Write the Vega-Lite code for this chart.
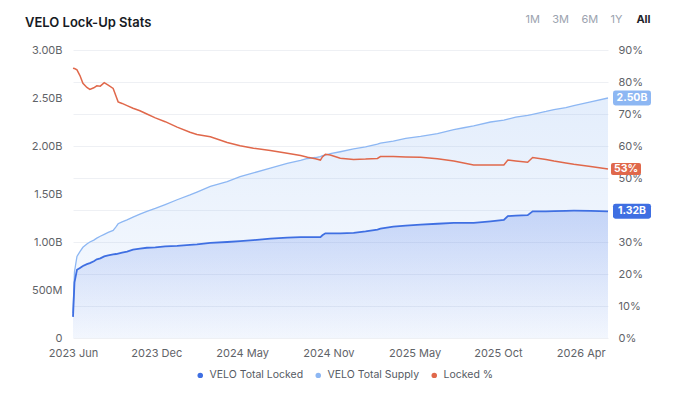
{
  "$schema": "https://vega.github.io/schema/vega-lite/v6.json",
  "width": 535,
  "height": 288,
  "autosize": "none",
  "padding": {"left": 73, "top": 50, "right": 72, "bottom": 70},
  "background": "white",
  "title": {
    "text": "VELO Lock-Up Stats",
    "anchor": "start",
    "frame": "group",
    "dx": -48,
    "dy": 37,
    "offset": 20,
    "fontSize": 13,
    "fontWeight": 600,
    "color": "#161a23"
  },
  "data": {
    "values": [
      {"date": "2023-06-20", "locked": 0.22, "supply": 0.26, "pct": 84.3},
      {"date": "2023-06-23", "locked": 0.58, "supply": 0.69, "pct": 84.2},
      {"date": "2023-06-28", "locked": 0.71, "supply": 0.85, "pct": 83.8},
      {"date": "2023-07-04", "locked": 0.73, "supply": 0.90, "pct": 82.0},
      {"date": "2023-07-10", "locked": 0.75, "supply": 0.945, "pct": 79.6},
      {"date": "2023-07-18", "locked": 0.77, "supply": 0.98, "pct": 78.3},
      {"date": "2023-07-24", "locked": 0.78, "supply": 1.00, "pct": 77.7},
      {"date": "2023-08-01", "locked": 0.80, "supply": 1.02, "pct": 78.2},
      {"date": "2023-08-07", "locked": 0.82, "supply": 1.04, "pct": 78.8},
      {"date": "2023-08-14", "locked": 0.83, "supply": 1.06, "pct": 78.7},
      {"date": "2023-08-22", "locked": 0.85, "supply": 1.08, "pct": 79.8},
      {"date": "2023-08-30", "locked": 0.86, "supply": 1.10, "pct": 79.0},
      {"date": "2023-09-09", "locked": 0.87, "supply": 1.12, "pct": 78.0},
      {"date": "2023-09-15", "locked": 0.875, "supply": 1.16, "pct": 75.5},
      {"date": "2023-09-19", "locked": 0.88, "supply": 1.19, "pct": 73.8},
      {"date": "2023-09-27", "locked": 0.89, "supply": 1.21, "pct": 73.3},
      {"date": "2023-10-07", "locked": 0.90, "supply": 1.23, "pct": 72.6},
      {"date": "2023-10-19", "locked": 0.92, "supply": 1.26, "pct": 71.8},
      {"date": "2023-11-02", "locked": 0.93, "supply": 1.29, "pct": 71.0},
      {"date": "2023-11-16", "locked": 0.94, "supply": 1.32, "pct": 70.0},
      {"date": "2023-12-03", "locked": 0.945, "supply": 1.35, "pct": 68.8},
      {"date": "2023-12-23", "locked": 0.955, "supply": 1.39, "pct": 67.6},
      {"date": "2024-01-16", "locked": 0.96, "supply": 1.44, "pct": 65.9},
      {"date": "2024-02-11", "locked": 0.97, "supply": 1.49, "pct": 64.3},
      {"date": "2024-02-25", "locked": 0.975, "supply": 1.52, "pct": 63.6},
      {"date": "2024-03-23", "locked": 0.99, "supply": 1.58, "pct": 62.9},
      {"date": "2024-04-26", "locked": 1.00, "supply": 1.63, "pct": 61.1},
      {"date": "2024-05-22", "locked": 1.01, "supply": 1.68, "pct": 60.1},
      {"date": "2024-06-18", "locked": 1.02, "supply": 1.72, "pct": 59.3},
      {"date": "2024-07-22", "locked": 1.035, "supply": 1.77, "pct": 58.6},
      {"date": "2024-08-25", "locked": 1.045, "supply": 1.82, "pct": 57.7},
      {"date": "2024-09-21", "locked": 1.05, "supply": 1.85, "pct": 57.0},
      {"date": "2024-10-05", "locked": 1.05, "supply": 1.87, "pct": 56.5},
      {"date": "2024-10-21", "locked": 1.05, "supply": 1.88, "pct": 56.0},
      {"date": "2024-10-31", "locked": 1.05, "supply": 1.89, "pct": 55.6},
      {"date": "2024-11-04", "locked": 1.07, "supply": 1.90, "pct": 56.6},
      {"date": "2024-11-10", "locked": 1.09, "supply": 1.905, "pct": 57.4},
      {"date": "2024-11-20", "locked": 1.09, "supply": 1.92, "pct": 57.2},
      {"date": "2024-12-10", "locked": 1.09, "supply": 1.94, "pct": 56.2},
      {"date": "2025-01-06", "locked": 1.095, "supply": 1.97, "pct": 55.8},
      {"date": "2025-01-30", "locked": 1.11, "supply": 1.99, "pct": 55.9},
      {"date": "2025-02-23", "locked": 1.13, "supply": 2.02, "pct": 56.1},
      {"date": "2025-03-01", "locked": 1.14, "supply": 2.03, "pct": 56.7},
      {"date": "2025-03-27", "locked": 1.16, "supply": 2.05, "pct": 56.7},
      {"date": "2025-04-21", "locked": 1.17, "supply": 2.08, "pct": 56.6},
      {"date": "2025-05-21", "locked": 1.18, "supply": 2.10, "pct": 56.5},
      {"date": "2025-06-24", "locked": 1.19, "supply": 2.13, "pct": 56.0},
      {"date": "2025-07-27", "locked": 1.20, "supply": 2.17, "pct": 55.3},
      {"date": "2025-08-16", "locked": 1.20, "supply": 2.19, "pct": 54.7},
      {"date": "2025-09-05", "locked": 1.20, "supply": 2.21, "pct": 54.1},
      {"date": "2025-10-09", "locked": 1.215, "supply": 2.25, "pct": 54.1},
      {"date": "2025-11-05", "locked": 1.23, "supply": 2.27, "pct": 54.1},
      {"date": "2025-11-13", "locked": 1.27, "supply": 2.28, "pct": 55.6},
      {"date": "2025-11-29", "locked": 1.275, "supply": 2.30, "pct": 55.3},
      {"date": "2025-12-23", "locked": 1.28, "supply": 2.32, "pct": 54.9},
      {"date": "2026-01-02", "locked": 1.32, "supply": 2.33, "pct": 56.4},
      {"date": "2026-01-29", "locked": 1.32, "supply": 2.36, "pct": 55.8},
      {"date": "2026-02-14", "locked": 1.322, "supply": 2.38, "pct": 55.3},
      {"date": "2026-03-10", "locked": 1.325, "supply": 2.40, "pct": 54.7},
      {"date": "2026-03-26", "locked": 1.326, "supply": 2.42, "pct": 54.3},
      {"date": "2026-04-29", "locked": 1.325, "supply": 2.46, "pct": 53.6},
      {"date": "2026-06-03", "locked": 1.32, "supply": 2.50, "pct": 52.8}
    ]
  },
  "encoding": {
    "x": {
      "field": "date",
      "type": "temporal",
      "title": null,
      "axis": {
        "values": [
          {"year": 2023, "month": 6, "date": 20},
          {"year": 2023, "month": 12, "date": 5},
          {"year": 2024, "month": 5, "date": 26},
          {"year": 2024, "month": 11, "date": 16},
          {"year": 2025, "month": 5, "date": 9},
          {"year": 2025, "month": 10, "date": 24},
          {"year": 2026, "month": 4, "date": 9}
        ],
        "labelExpr": "timeFormat(datum.value, '%Y %b')",
        "labelFlush": false,
        "labelOverlap": false,
        "grid": false,
        "domain": false,
        "ticks": false,
        "labelPadding": 9
      }
    }
  },
  "layer": [
    {
      "transform": [{"fold": ["locked", "supply"], "as": ["series", "value"]}],
      "layer": [
        {
          "transform": [{"filter": "datum.series == 'supply'"}],
          "mark": {
            "type": "area",
            "color": {
              "gradient": "linear", "x1": 0, "y1": 0, "x2": 0, "y2": 1,
              "stops": [
                {"offset": 0, "color": "rgba(140,182,242,0.24)"},
                {"offset": 1, "color": "rgba(140,182,242,0.06)"}
              ]
            }
          }
        },
        {
          "transform": [{"filter": "datum.series == 'locked'"}],
          "mark": {
            "type": "area",
            "color": {
              "gradient": "linear", "x1": 0, "y1": 0, "x2": 0, "y2": 1,
              "stops": [
                {"offset": 0, "color": "rgba(65,112,230,0.24)"},
                {"offset": 1, "color": "rgba(65,112,230,0.03)"}
              ]
            }
          }
        },
        {
          "transform": [{"filter": "datum.series == 'supply'"}],
          "mark": {"type": "line", "strokeWidth": 1.3},
          "encoding": {
            "color": {
              "datum": "VELO Total Supply",
              "scale": {"domain": ["VELO Total Locked", "VELO Total Supply", "Locked %"], "range": ["#3f6fe2", "#8db7f3", "#e0684b"]}
            }
          }
        },
        {
          "transform": [{"filter": "datum.series == 'locked'"}],
          "mark": {"type": "line", "strokeWidth": 1.8},
          "encoding": {"color": {"datum": "VELO Total Locked"}}
        },
        {
          "transform": [
            {"filter": "datum.supply >= 2.5"},
            {"calculate": "datum.series == 'locked' ? 'VELO Total Locked' : 'VELO Total Supply'", "as": "name"}
          ],
          "mark": {
            "type": "point",
            "shape": "M-0.87,-0.395 L0.87,-0.395 Q1,-0.395 1,-0.265 L1,0.265 Q1,0.395 0.87,0.395 L-0.87,0.395 Q-1,0.395 -1,0.265 L-1,-0.265 Q-1,-0.395 -0.87,-0.395 Z",
            "filled": true,
            "opacity": 1,
            "size": 1444,
            "xOffset": 24,
            "strokeWidth": 0
          },
          "encoding": {
            "color": {
              "field": "name",
              "type": "nominal",
              "scale": {"domain": ["VELO Total Locked", "VELO Total Supply", "Locked %"], "range": ["#3f6fe2", "#8db7f3", "#e0684b"]}
            }
          }
        },
        {
          "transform": [
            {"filter": "datum.supply >= 2.5"},
            {"calculate": "format(datum.value, '.2f') + 'B'", "as": "label"}
          ],
          "mark": {"type": "text", "xOffset": 24, "color": "white", "fontWeight": "bold", "fontSize": 10.5},
          "encoding": {"text": {"field": "label"}}
        }
      ],
      "encoding": {
        "y": {
          "field": "value",
          "type": "quantitative",
          "title": "All",
          "scale": {"domain": [0, 3]},
          "axis": {
            "orient": "left",
            "values": [0, 0.5, 1, 1.5, 2, 2.5, 3],
            "labelExpr": "datum.value == 0 ? '0' : datum.value < 1 ? (datum.value * 1000) + 'M' : format(datum.value, '.2f') + 'B'",
            "labelOverlap": false,
            "grid": false,
            "domain": false,
            "ticks": false,
            "labelPadding": 11,
            "titleAngle": 0,
            "titleX": 570,
            "titleY": -31,
            "titleAlign": "center",
            "titleBaseline": "middle",
            "titleFontWeight": "bold",
            "titleColor": "#1f2329",
            "titleFontSize": 11
          }
        }
      }
    },
    {
      "layer": [
        {
          "mark": {"type": "line", "strokeWidth": 1.5},
          "encoding": {"color": {"datum": "Locked %"}}
        },
        {
          "transform": [{"filter": "datum.supply >= 2.5"}],
          "mark": {
            "type": "point",
            "shape": "M-0.87,-0.395 L0.87,-0.395 Q1,-0.395 1,-0.265 L1,0.265 Q1,0.395 0.87,0.395 L-0.87,0.395 Q-1,0.395 -1,0.265 L-1,-0.265 Q-1,-0.395 -0.87,-0.395 Z",
            "filled": true,
            "opacity": 1,
            "size": 900,
            "xOffset": 18,
            "strokeWidth": 0
          },
          "encoding": {"color": {"datum": "Locked %"}}
        },
        {
          "transform": [
            {"filter": "datum.supply >= 2.5"},
            {"calculate": "format(datum.pct, '.0f') + '%'", "as": "label"}
          ],
          "mark": {"type": "text", "xOffset": 18, "color": "white", "fontWeight": "bold", "fontSize": 10.5},
          "encoding": {"text": {"field": "label"}}
        }
      ],
      "encoding": {
        "y": {
          "field": "pct",
          "type": "quantitative",
          "title": "1M\u00a0\u00a0\u00a0\u00a03M\u00a0\u00a0\u00a0\u00a06M\u00a0\u00a0\u00a0\u00a01Y",
          "scale": {"domain": [0, 90]},
          "axis": {
            "orient": "right",
            "values": [0, 10, 20, 30, 40, 50, 60, 70, 80, 90],
            "labelExpr": "datum.value + '%'",
            "labelOverlap": false,
            "grid": true,
            "gridColor": "#eef0f4",
            "domain": false,
            "ticks": false,
            "labelPadding": 10,
            "titleAngle": 0,
            "titleX": 14,
            "titleY": -31,
            "titleAlign": "right",
            "titleBaseline": "middle",
            "titleFontWeight": "normal",
            "titleColor": "#9ca3af",
            "titleFontSize": 11
          }
        }
      }
    }
  ],
  "resolve": {"scale": {"y": "independent"}},
  "config": {
    "font": "Inter",
    "view": {"stroke": null},
    "axis": {"labelFontSize": 11, "labelColor": "#5f6368", "labelFont": "Inter"},
    "legend": {
      "orient": "none",
      "legendX": 122,
      "legendY": 320,
      "direction": "horizontal",
      "title": null,
      "symbolType": "circle",
      "labelFontSize": 10.5,
      "labelColor": "#555a63",
      "symbolSize": 30,
      "columnPadding": 9,
      "labelOffset": 4,
      "symbolStrokeWidth": 0
    }
  }
}
